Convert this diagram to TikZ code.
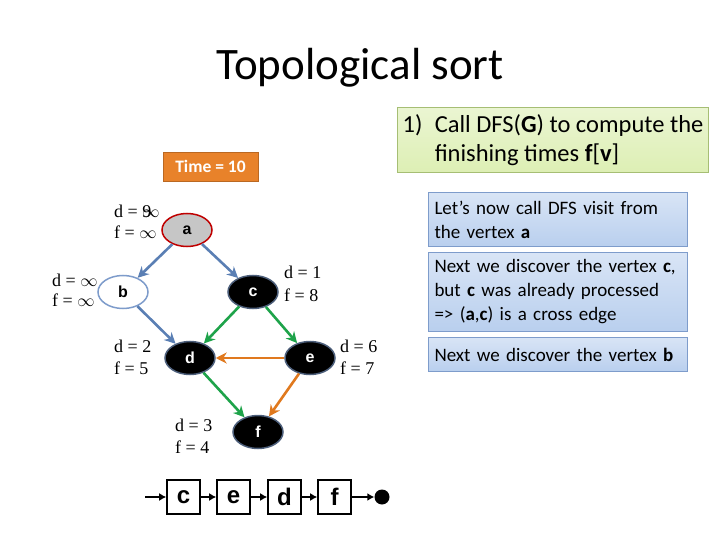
\documentclass[tikz,border=0pt]{standalone}
\usepackage{fontspec}
\setmainfont{Carlito}
\newfontfamily\labelfont{Liberation Serif}
\newfontfamily\nodefont{Liberation Sans}
\usetikzlibrary{shapes.geometric,arrows.meta}
\definecolor{edgeblue}{HTML}{5A7FB4}
\definecolor{edgegreen}{HTML}{1EA34A}
\definecolor{edgeorange}{HTML}{E0791E}
\definecolor{boxblue}{HTML}{B9CFEE}
\definecolor{boxblueline}{HTML}{7E9CCB}
\definecolor{boxgreen}{HTML}{DDEFB4}
\definecolor{boxgreenline}{HTML}{A6BE74}
\definecolor{timeorange}{HTML}{E8822A}
\begin{document}
\begin{tikzpicture}[x=1pt, y=-1pt,
        vertex/.style={ellipse, draw=boxblueline!60!black, line width=1.5pt, fill=black,
          text=white, minimum width=50pt, minimum height=33pt, inner sep=0pt,
          font=\nodefont\bfseries\fontsize{16}{18}\selectfont},
        info/.style={font=\labelfont\fontsize{18}{22}\selectfont, align=left, anchor=west, inner sep=1pt},
        edge/.style={line width=2.6pt, -{Stealth[length=11pt,width=11pt]}},
        note/.style={draw=boxblueline, line width=1pt, top color=boxblue!55, bottom color=boxblue,
          anchor=north west, align=left, inner sep=6pt, text width=247pt,
          font=\fontsize{19}{24}\selectfont},
        item/.style={draw, line width=1.6pt, minimum width=33pt, minimum height=34pt, inner sep=0pt,
          font=\nodefont\bfseries\fontsize{24}{26}\selectfont},
        link/.style={line width=2pt, -{Latex[length=7pt,width=8pt]}}
      ]
      \useasboundingbox (0,0) rectangle (720,540);
      \node[font=\fontsize{45}{48}\selectfont] (title) at (360,68) {Topological sort};
      % step box
      \node[draw=boxgreenline, line width=1pt, top color=boxgreen!60, bottom color=boxgreen,
        anchor=north west, minimum width=311pt, minimum height=65pt, align=left, inner sep=3pt,
        font=\fontsize{24.5}{29}\selectfont] (step) at (397,107)
        {1)\enspace Call DFS(\textbf{G}) to compute the\\
         \hphantom{1)\enspace}finishing times \textbf{f}[\textbf{v}]};
      \node[fill=timeorange, draw=timeorange!80!black, text=white, minimum width=95pt, minimum height=29pt,
        font=\bfseries\fontsize{17.5}{20}\selectfont] (time) at (210.5,166.5) {Time = 10};
      % notes
      \node[note, minimum height=54pt] (n1) at (428,192) {Let’s now call DFS visit from\\the vertex \textbf{a}};
      \node[note, minimum height=79pt] (n2) at (428,252) {Next we discover the vertex \textbf{c},\\but \textbf{c} was already processed\\=> (\textbf{a},\textbf{c}) is a cross edge};
      \node[note, minimum height=34pt] (n3) at (428,337) {Next we discover the vertex \textbf{b}};
      % vertices
      \node[vertex, fill=gray!45, draw=red!75!black, text=black] (a) at (187,230) {a};
      \node[vertex, fill=white, draw=boxblueline, text=black] (b) at (123,292) {b};
      \node[vertex] (c) at (253,292) {c};
      \node[vertex] (d) at (190,358) {d};
      \node[vertex] (e) at (310,358) {e};
      \node[vertex] (f) at (258,432) {f};
      % d and f values
      \node[info] (da) at (113,211) {d = \rlap{9}$\infty$};
      \node[info] (fa) at (113,232) {f = $\infty$};
      \node[info] (db) at (51,280) {d = $\infty$};
      \node[info] (fb) at (51,300) {f = $\infty$};
      \node[info] (dc) at (283,272) {d = 1};
      \node[info] (fc) at (283,295) {f = 8};
      \node[info] (dd) at (113,346) {d = 2};
      \node[info] (fd) at (113,368) {f = 5};
      \node[info] (de) at (339,346) {d = 6};
      \node[info] (fe) at (339,368) {f = 7};
      \node[info] (df) at (174,425) {d = 3};
      \node[info] (ff) at (174,447) {f = 4};
      % edges
      \draw[edge, edgeblue] (a) -- (b);
      \draw[edge, edgeblue] (a) -- (c);
      \draw[edge, edgeblue] (b) -- (d);
      \draw[edge, edgegreen] (c) -- (d);
      \draw[edge, edgegreen] (c) -- (e);
      \draw[edge, edgeorange] (e) -- (d);
      \draw[edge, edgegreen] (d) -- (f);
      \draw[edge, edgeorange] (e) -- (f);
      % sorted list
      \coordinate (head) at (145,497);
      \node[item] (lc) at (183.5,497) {c};
      \node[item] (le) at (233.5,497) {e};
      \node[item] (ld) at (284.5,497) {d};
      \node[item] (lf) at (334.5,497) {f};
      \node[circle, fill=black, minimum size=15pt, inner sep=0pt] (nil) at (382,497) {};
      \draw[link] (head) -- (lc);
      \draw[link] (lc) -- (le);
      \draw[link] (le) -- (ld);
      \draw[link] (ld) -- (lf);
      \draw[link] (lf) -- (nil);
    \end{tikzpicture}
\end{document}
